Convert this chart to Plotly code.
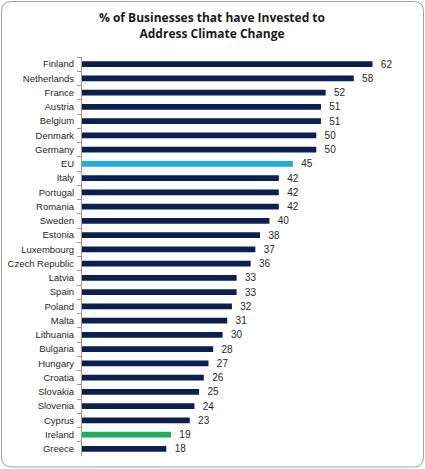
import plotly.graph_objects as go

countries = ["Finland", "Netherlands", "France", "Austria", "Belgium", "Denmark",
             "Germany", "EU", "Italy", "Portugal", "Romania", "Sweden", "Estonia",
             "Luxembourg", "Czech Republic", "Latvia", "Spain", "Poland", "Malta",
             "Lithuania", "Bulgaria", "Hungary", "Croatia", "Slovakia", "Slovenia",
             "Cyprus", "Ireland", "Greece"]
values = [62, 58, 52, 51, 51, 50, 50, 45, 42, 42, 42, 40, 38, 37, 36, 33, 33,
          32, 31, 30, 28, 27, 26, 25, 24, 23, 19, 18]

navy = "#0C1F52"
highlight = {"EU": "#1CADE4", "Ireland": "#1EB05B"}
colors = [highlight.get(c, navy) for c in countries]

W, H = 425, 469
L, R, T, B = 82, 15, 57, 13

fig = go.Figure(go.Bar(
    x=values, y=countries, orientation="h",
    marker=dict(color=colors, line=dict(width=0)),
    text=["   " + str(v) for v in values], textposition="outside", cliponaxis=False,
    constraintext="none",
    textfont=dict(family="Liberation Sans", size=10, color="#262626"),
    width=0.42,
))

# rounded border round the whole chart, in paper coords
pw, ph = W - L - R, H - T - B
def px(x): return (x - L) / pw
def py(y): return (H - B - y) / ph
x0, x1, y0, y1, r = 1.5, 423.5, 1.5, 467, 10
path = (f"M {px(x0 + r)},{py(y0)} L {px(x1 - r)},{py(y0)} "
        f"Q {px(x1)},{py(y0)} {px(x1)},{py(y0 + r)} "
        f"L {px(x1)},{py(y1 - r)} Q {px(x1)},{py(y1)} {px(x1 - r)},{py(y1)} "
        f"L {px(x0 + r)},{py(y1)} Q {px(x0)},{py(y1)} {px(x0)},{py(y1 - r)} "
        f"L {px(x0)},{py(y0 + r)} Q {px(x0)},{py(y0)} {px(x0 + r)},{py(y0)} Z")

fig.update_layout(
    width=W, height=H,
    margin=dict(l=L, r=R, t=T, b=B),
    paper_bgcolor="white", plot_bgcolor="white",
    xaxis=dict(range=[0, 70], visible=False),
    yaxis=dict(autorange="reversed", showgrid=False, showline=True, automargin=False,
               linecolor="#9a9a9a", linewidth=1, ticks="outside", ticklen=4,
               tickcolor="#9a9a9a", tickson="boundaries", ticklabelstandoff=5,
               tickfont=dict(family="Liberation Sans", size=9.5, color="#262626")),
    shapes=[dict(type="path", path=path, xref="paper", yref="paper",
                 line=dict(color="#a0a0a0", width=1))],
    annotations=[dict(text="<b>% of Businesses that have Invested to<br>Address Climate Change</b>",
                      x=px(212), y=py(26), xref="paper", yref="paper",
                      xanchor="center", yanchor="middle", showarrow=False,
                      font=dict(family="Open Sans", size=12, color="#1a1a1a"))],
    showlegend=False,
)

fig.write_html("out.html", config={"displayModeBar": False},
               post_script="document.body.style.margin='0';")
